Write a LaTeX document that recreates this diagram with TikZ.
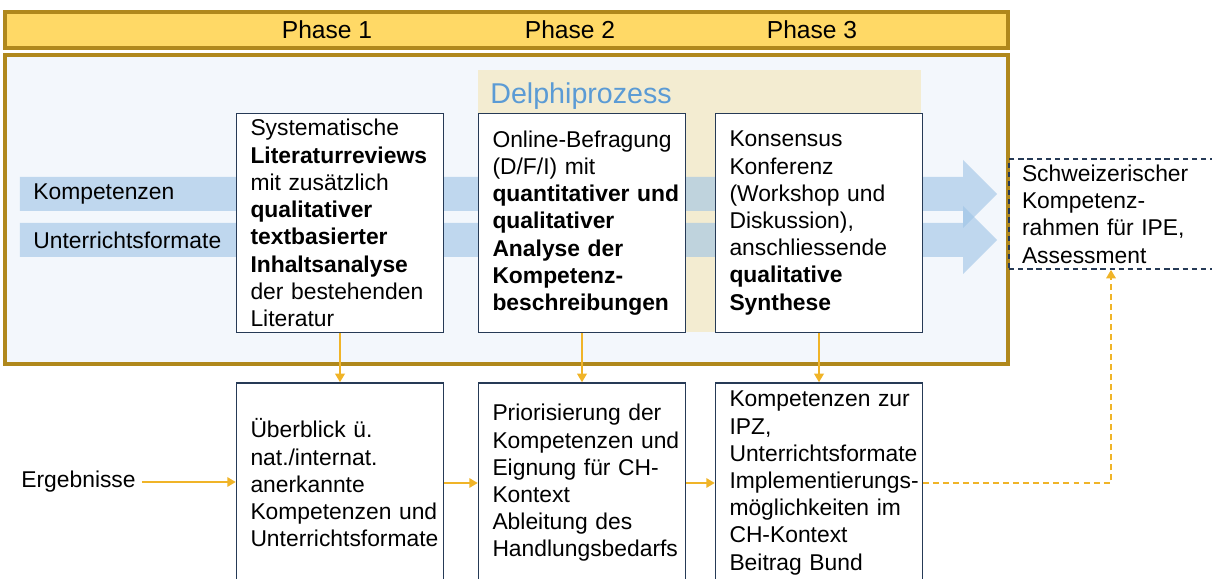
\documentclass[tikz,border=0pt]{standalone}
\usepackage{fontspec}
\setmainfont{Liberation Sans}
\usetikzlibrary{arrows.meta}

\definecolor{phasegold}{RGB}{255,217,102}
\definecolor{phaseframe}{RGB}{176,136,28}
\definecolor{mainfill}{RGB}{243,247,252}
\definecolor{delphibg}{RGB}{243,236,209}
\definecolor{delphiblue}{RGB}{91,155,213}
\definecolor{bandblue}{RGB}{157,195,230}
\definecolor{boxframe}{RGB}{38,58,86}
\definecolor{flowgold}{RGB}{240,180,40}
\hyphenpenalty=10000
\exhyphenpenalty=10000

\begin{document}
\begin{tikzpicture}[x=1cm,y=1cm,
  txt/.style={font=\fontsize{13}{15.5}\selectfont},
  label/.style={txt,anchor=west,inner sep=0pt},
  stagebox/.style={txt,draw=boxframe,line width=0.03cm,fill=white,
    minimum width=4.14cm,text width=3.58cm,align=left,inner xsep=0pt},
  phase/.style={font=\fontsize{14}{16}\selectfont},
  flow/.style={flowgold,line width=0.035cm,-{Triangle[length=0.17cm,width=0.19cm]}},
  link/.style={flow,dash pattern=on 3.4pt off 2.3pt}]
  \useasboundingbox (0,0) rectangle (24.24,11.58);
  \draw[fill=phasegold,draw=phaseframe,line width=0.065cm] (0.10,10.62) rectangle (20.16,11.34);
  \draw[fill=mainfill,draw=phaseframe,line width=0.065cm] (0.10,4.30) rectangle (20.16,10.48);
  \fill[delphibg] (9.56,4.94) rectangle (18.42,10.18);
  \fill[bandblue,opacity=0.6] (0.40,8.04) -- (19.26,8.04) -- (19.26,8.38) -- (19.94,7.70)
    -- (19.26,7.02) -- (19.26,7.36) -- (0.40,7.36) -- cycle;
  \fill[bandblue,opacity=0.6] (0.40,7.12) -- (19.26,7.12) -- (19.26,7.46) -- (19.94,6.78)
    -- (19.26,6.10) -- (19.26,6.44) -- (0.40,6.44) -- cycle;
  \node[phase] (ph1) at (6.54,10.98) {Phase 1};
  \node[phase] (ph2) at (11.40,10.98) {Phase 2};
  \node[phase] (ph3) at (16.24,10.98) {Phase 3};
  \node[anchor=west,inner sep=0pt,text=delphiblue,font=\fontsize{16.3}{19}\selectfont] (delphi) at (9.80,9.66) {Delphiprozess};
  \node[label] (komp) at (0.66,7.70) {Kompetenzen};
  \node[label] (unt) at (0.66,6.78) {Unterrichtsformate};
  \node[label] (erg) at (0.42,1.94) {Ergebnisse};
  \node[stagebox,minimum height=4.38cm] (lit) at (6.80,7.12) {Systematische\\
    \textbf{Literaturreviews}\\ mit zusätzlich\\ \textbf{qualitativer}\\ \textbf{textbasierter}\\
    \textbf{Inhaltsanalyse}\\ der bestehenden\\ Literatur};
  \node[stagebox,minimum height=4.38cm] (survey) at (11.64,7.12) {Online-Befragung\\
    (D/F/I) mit\\ \textbf{quantitativer~und}\\ \textbf{qualitativer}\\ \textbf{Analyse der}\\
    \textbf{Kompetenz-}\\ \textbf{beschreibungen}};
  \node[stagebox,minimum height=4.38cm] (konf) at (16.38,7.12) {Konsensus\\ Konferenz\\
    (Workshop und\\ Diskussion),\\ anschliessende\\ \textbf{qualitative}\\ \textbf{Synthese}};
  \node[stagebox,minimum height=4.0cm] (overview) at (6.80,1.92) {Überblick ü.\\
    nat./internat.\\ anerkannte\\ Kompetenzen~und\\ Unterrichtsformate};
  \node[stagebox,minimum height=4.0cm] (prio) at (11.64,1.92) {Priorisierung der\\
    Kompetenzen~und\\ Eignung für CH-\\ Kontext\\ Ableitung des\\ Handlungsbedarfs};
  \node[stagebox,minimum height=4.0cm] (result) at (16.38,1.92) {Kompetenzen~zur\\ IPZ,\\
    Unterrichtsformate\\ Implementierungs-\\ möglichkeiten~im\\ CH-Kontext\\ Beitrag Bund};
  \node[txt,draw=boxframe,line width=0.03cm,dash pattern=on 3pt off 2.2pt,
    minimum width=4.8cm,minimum height=2.2cm,text width=4.28cm,align=left,inner xsep=0pt]
    (frame) at (22.58,7.30) {Schweizerischer\\ Kompetenz-\\ rahmen für IPE,\\ Assessment};
  \coordinate (kin) at (22.22,0);
  \draw[flow] (lit) -- (overview);
  \draw[flow] (survey) -- (prio);
  \draw[flow] (konf) -- (result);
  \draw[flow] ([xshift=0.12cm]erg.east) -- (overview.west |- erg.east);
  \draw[flow] (overview) -- (prio);
  \draw[flow] (prio) -- (result);
  \draw[link] (result.east) -| (kin |- frame.south);
\end{tikzpicture}
\end{document}
